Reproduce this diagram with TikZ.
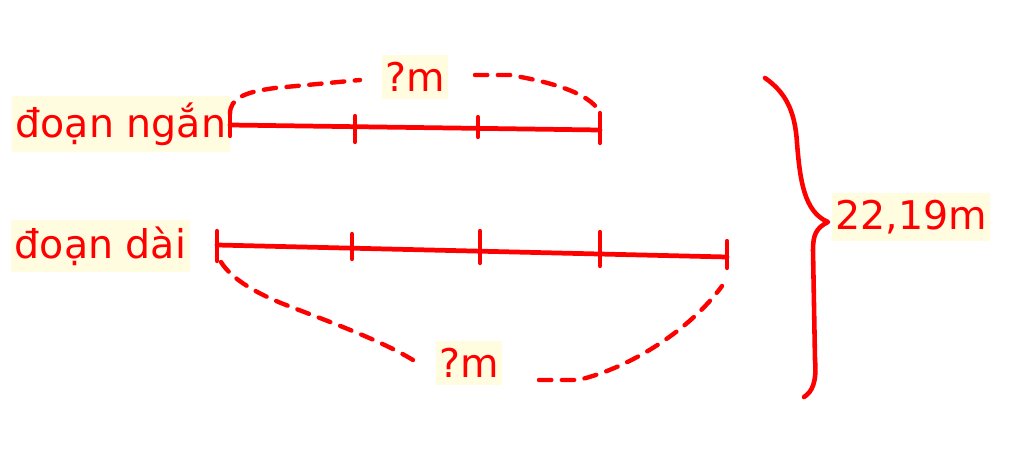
\documentclass[tikz,border=0pt]{standalone}
\usepackage{fontspec}
\setmainfont{DejaVu Sans}
\definecolor{hl}{RGB}{255,252,224}
\definecolor{pen}{RGB}{255,0,0}
\begin{document}
\begin{tikzpicture}[x=0.02cm,y=-0.02cm,
  lbl/.style={fill=hl,text=pen,font=\fontsize{22.5}{25}\selectfont,inner xsep=2pt,inner ysep=4pt},
  seg/.style={draw=pen,line width=2.7pt,line cap=round},
  tick/.style={draw=pen,line width=2.4pt,line cap=round},
  dsh/.style={draw=pen,line width=2.5pt,line cap=round,dash pattern=on 7pt off 6pt},
  brace/.style={draw=pen,line width=2.6pt,line cap=round,line join=round}]
\useasboundingbox (0,0) rectangle (1024,453);
\fill[white] (0,0) rectangle (1024,453);
% labels
\node[lbl,anchor=east] (ngan) at (230,124) {đoạn ngắn};
\node[lbl] (q1) at (415,77) {?m};
\node[lbl,anchor=east] (dai) at (190,246) {đoạn dài};
\node[lbl] (q2) at (469,363) {?m};
\node[lbl] (tot) at (911,217) {22,19m};
% short segment
\coordinate (a0) at (230,125);
\coordinate (a3) at (600,130);
\path[seg] (a0) -- (a3);
\path[tick] (230,112) -- (230,136);
\path[tick] (355,116) -- (355,142);
\path[tick] (478,117) -- (478,137);
\path[tick] (600,113) -- (600,143);
% long segment
\coordinate (b0) at (217,245);
\coordinate (b4) at (727,257);
\path[seg] (b0) -- (b4);
\path[tick] (217,231) -- (217,261);
\path[tick] (352,234) -- (352,259);
\path[tick] (480,231) -- (480,263);
\path[tick] (600,232) -- (600,266);
\path[tick] (727,241) -- (727,268);
% dashed arcs
\path[dsh] (230,114) .. controls (230,98) and (245,92) .. (275,88) -- (360,80);
\path[dsh] (475,75) -- (510,75) .. controls (550,82) and (588,92) .. (600,112);
\path[dsh] (221,262) .. controls (232,280) and (260,295) .. (286,305)
  .. controls (330,322) and (380,340) .. (413,360);
\path[dsh] (539,380) -- (578,380) .. controls (630,368) and (690,330) .. (722,286);
% brace
\path[brace] (765,78) .. controls (785,92) and (795,110) .. (797,143)
  .. controls (800,180) and (804,212) .. (828,222)
  .. controls (816,228) and (813,235) .. (813,250)
  -- (815,360) .. controls (817,382) and (812,392) .. (804,397);
\end{tikzpicture}
\end{document}
